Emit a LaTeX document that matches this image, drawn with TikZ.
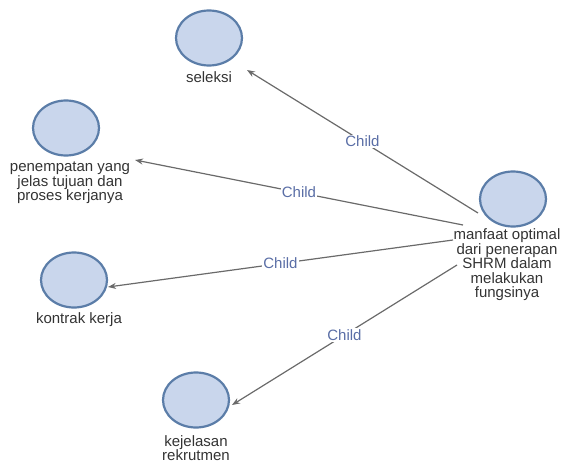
\documentclass[tikz,border=0pt]{standalone}
\usepackage{fontspec}
\setmainfont{Liberation Sans}
\usetikzlibrary{arrows.meta}
\definecolor{nodefill}{HTML}{C9D6EC}
\definecolor{nodeline}{HTML}{5B7DA8}
\definecolor{edgecol}{HTML}{6A6A6A}
\definecolor{lblcol}{HTML}{5A6EA6}
\definecolor{txtcol}{HTML}{333333}
\tikzset{
  conc/.style={ellipse, draw=nodeline, fill=nodefill, line width=2.2pt, minimum width=66pt, minimum height=55pt, inner sep=0pt},
  conctext/.style={text=txtcol, align=center, font=\fontsize{15}{14.5}\selectfont, inner sep=0pt},
  childedge/.style={draw=edgecol, line width=1.2pt, -{Stealth[length=8pt,width=6pt]}},
  childlbl/.style={text=lblcol, fill=white, font=\fontsize{15}{15}\selectfont, inner sep=1pt}
}
\usetikzlibrary{shapes.geometric}
\begin{document}
\begin{tikzpicture}[x=1pt,y=-1pt]
\useasboundingbox (0,0) rectangle (562,466);
% concepts
\node[conc] (c1) at (209,38) {};
\node[conctext] (t1) at (209,77) {seleksi};
\node[conc] (c2) at (66,128) {};
\node[conctext] (t2) at (70,183) {penempatan yang\\jelas tujuan dan\\proses kerjanya};
\node[conc] (c3) at (74,280) {};
\node[conctext] (t3) at (79,320) {kontrak kerja};
\node[conc] (c4) at (513,199) {};
\node[conctext] (t4) at (507,265) {manfaat optimal\\dari penerapan\\SHRM dalam\\melakukan\\fungsinya};
\node[conc] (c5) at (196,400) {};
\node[conctext] (t5) at (196,448) {kejelasan\\rekrutmen};
% connector ends
\coordinate (s1) at (478,213);
\coordinate (e1) at (247,70);
\coordinate (s2) at (463,225);
\coordinate (e2) at (135,160);
\coordinate (s3) at (453,240);
\coordinate (e3) at (108,287);
\coordinate (s4) at (457,265);
\coordinate (e4) at (232,405);
% connectors
\draw[childedge] (s1) -- node[childlbl] (l1) {Child} (e1);
\draw[childedge] (s2) -- node[childlbl] (l2) {Child} (e2);
\draw[childedge] (s3) -- node[childlbl] (l3) {Child} (e3);
\draw[childedge] (s4) -- node[childlbl] (l4) {Child} (e4);
\end{tikzpicture}
\end{document}
